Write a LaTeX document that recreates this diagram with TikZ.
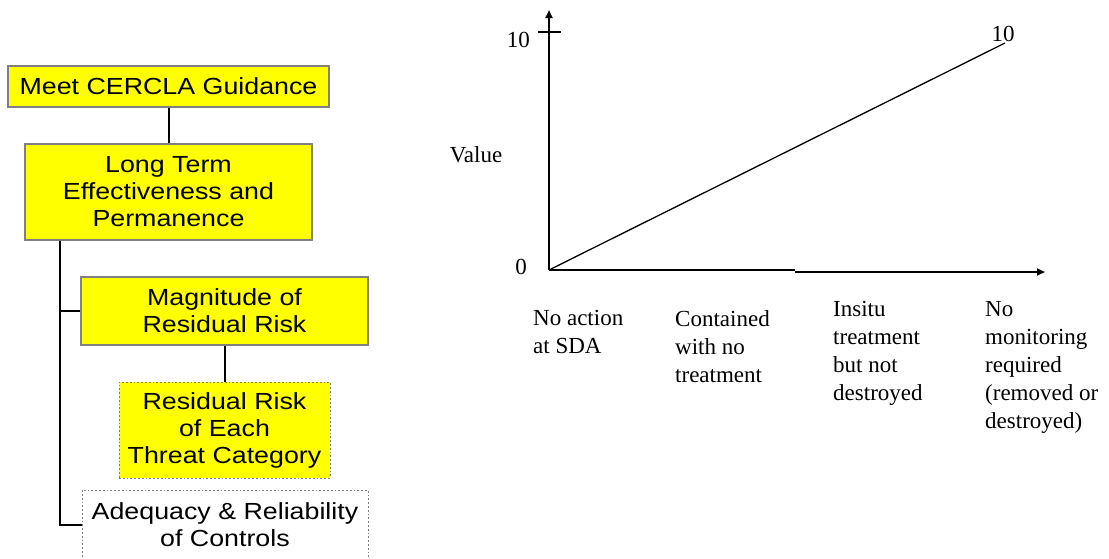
\documentclass[tikz,border=0pt]{standalone}
\usepackage{fontspec}
\setmainfont{Liberation Serif}
\newfontfamily\boxfont[FakeStretch=1.15]{Liberation Sans}
\usetikzlibrary{arrows.meta}
\definecolor{boxgray}{RGB}{128,128,128}
\definecolor{boxyellow}{RGB}{255,255,0}

\begin{document}
\begin{tikzpicture}[x=1pt,y=-1pt,
  tbox/.style={draw=boxgray, line width=1.8pt, fill=boxyellow, align=center,
    inner sep=0pt, font=\boxfont\fontsize{23.3}{27}\selectfont},
  dbox/.style={tbox, dotted, line width=1pt},
  link/.style={draw=black, line width=2pt},
  axisline/.style={draw=black, line width=2pt},
  valline/.style={draw=black, line width=1.3pt},
  lbl/.style={font=\fontsize{23}{28}\selectfont, align=left, inner sep=0pt},
  tip/.style={-{Triangle[length=8pt,width=7pt]}}]

\useasboundingbox (0,0) rectangle (1109,558);

% ---- hierarchy of criteria ----
\node[tbox, minimum width=321pt, minimum height=41pt] (b1) at (168.5,86.5) {Meet CERCLA Guidance};
\node[tbox, minimum width=287pt, minimum height=96pt] (b2) at (168.5,192) {Long Term\\Effectiveness and\\Permanence};
\node[tbox, minimum width=287pt, minimum height=68pt] (b3) at (224.5,311) {Magnitude of\\Residual Risk};
\node[dbox, minimum width=211pt, minimum height=96pt] (b4) at (224.5,430) {Residual Risk\\of Each\\Threat Category};
\node[dbox, fill=white, minimum width=286pt, minimum height=70pt] (b5) at (225,525) {Adequacy \& Reliability\\of Controls};
\coordinate (spine) at (60,0);

\draw[link] (b1.south) -- (b2.north);
\draw[link] (b2.south -| spine) |- (b3.west);
\draw[link] (b2.south -| spine) |- (b5.west);
\draw[link] (b3.south) -- (b4.north);

% ---- value function ----
\coordinate (O) at (549,270);
\coordinate (ytop) at (549,10);
\coordinate (xstep) at (795,270);
\coordinate (xstepb) at (795,272);
\coordinate (xend) at (1045,272);
\coordinate (vmax) at (1005,43);

\draw[axisline, tip] (O) -- (ytop);
\draw[axisline] (O) -- (xstep);
\draw[axisline, tip] (xstepb) -- (xend);
\draw[axisline] (538,32) -- (561,32);
\draw[valline] (O) -- (vmax);

\node[lbl, anchor=east] (ten) at (530,40) {10};
\node[lbl] (value) at (476,155) {Value};
\node[lbl] (zero) at (521,267) {0};
\node[lbl] (tenend) at (1003,34) {10};

% multi-line labels are anchored at the baseline of their last line
\node[lbl, anchor=base west] (c1) at (533,353) {No action\\at SDA};
\node[lbl, anchor=base west] (c2) at (675,382) {Contained\\with no\\treatment};
\node[lbl, anchor=base west] (c3) at (833,400) {Insitu\\treatment\\but not\\destroyed};
\node[lbl, anchor=base west] (c4) at (985,428) {No\\monitoring\\required\\(removed or\\destroyed)};
\end{tikzpicture}
\end{document}
